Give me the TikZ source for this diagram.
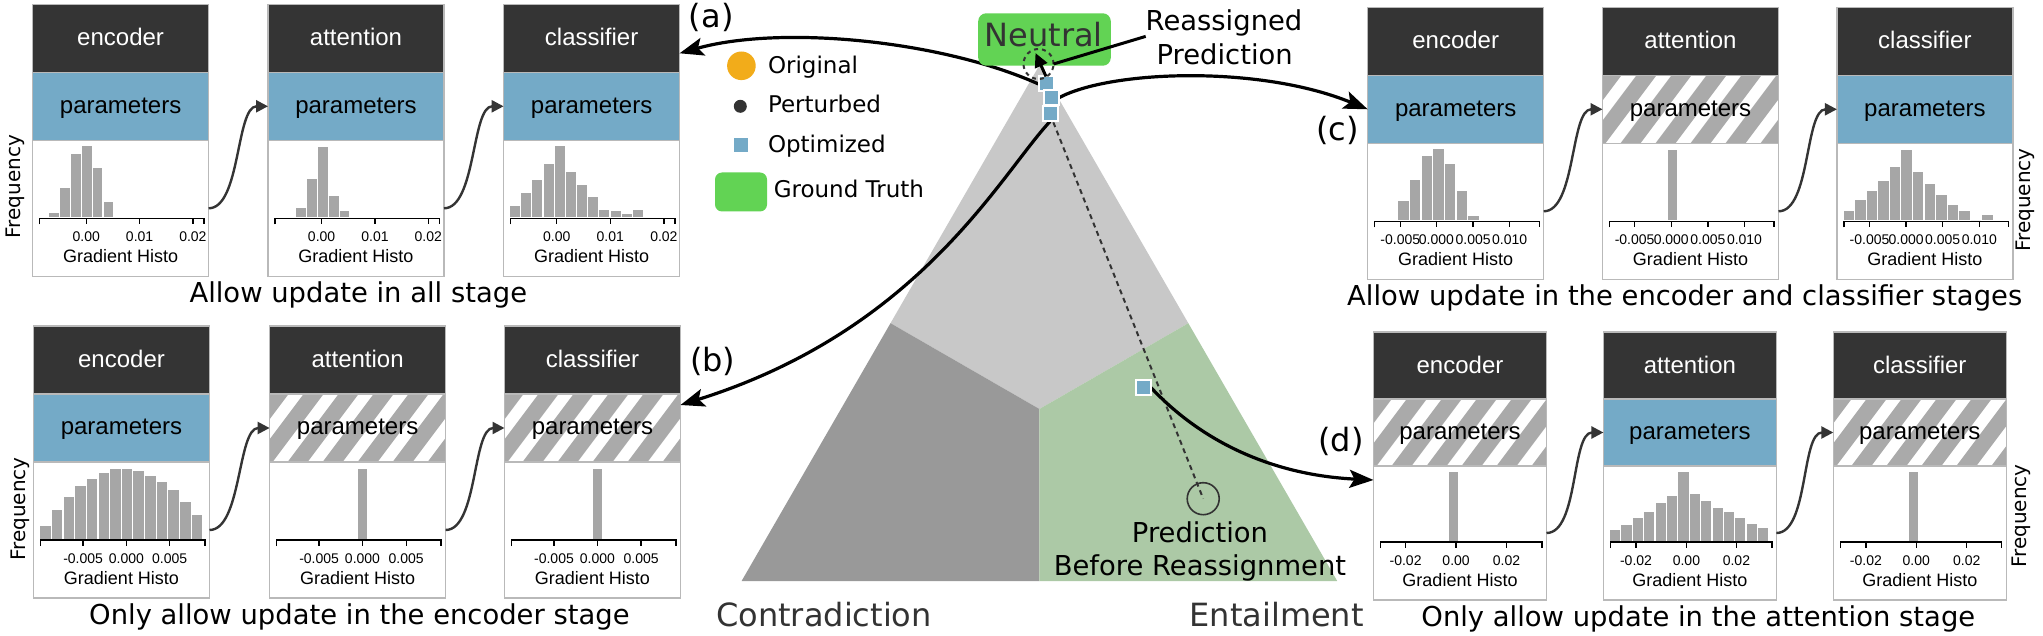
\documentclass[tikz,border=0pt]{standalone}
\usepackage{fontspec}
\setmainfont{DejaVu Sans}
\newfontfamily\pf{Liberation Sans}
\usetikzlibrary{arrows.meta}
\definecolor{headc}{RGB}{52,52,52}
\definecolor{paramc}{RGB}{116,170,199}
\definecolor{hatchc}{RGB}{170,170,170}
\definecolor{barc}{RGB}{166,166,166}
\definecolor{boxline}{RGB}{185,185,185}
\definecolor{topreg}{RGB}{200,200,200}
\definecolor{leftreg}{RGB}{153,153,153}
\definecolor{rightreg}{RGB}{172,201,166}
\definecolor{gtgreen}{RGB}{98,211,84}
\definecolor{origc}{RGB}{242,172,26}
\definecolor{darkt}{RGB}{51,51,51}
\tikzset{
  every node/.style={inner sep=0pt, outer sep=0pt},
  headbox/.style={fill=headc, draw=boxline, line width=1.2pt, anchor=north west},
  blueparam/.style={fill=paramc, draw=boxline, line width=1.2pt, anchor=north west},
  hatchparam/.style={fill=white, draw=boxline, line width=1.2pt, anchor=north west,
    path picture={\foreach \k in {-5,...,6}{\draw[hatchc, line width=16pt]
      ([xshift=\k*35pt+23.5pt, yshift=-6pt]path picture bounding box.south west) -- ++(81pt,108pt);}}},
  whitebox/.style={fill=white, draw=boxline, line width=1.2pt, anchor=north west},
  headtxt/.style={font=\pf\fontsize{24}{28}\selectfont, text=white},
  partxt/.style={font=\pf\fontsize{24}{28}\selectfont, text=black},
  ticktxt/.style={font=\pf\fontsize{14}{16}\selectfont, text=black},
  histtxt/.style={font=\pf\fontsize{18}{21}\selectfont, text=black},
  axisline/.style={draw=black, line width=1.3pt},
  captxt/.style={font=\fontsize{27.4}{32}\selectfont, text=black},
  freqtxt/.style={font=\fontsize{20}{24}\selectfont, text=black, rotate=90},
  lbltxt/.style={font=\fontsize{32}{36}\selectfont, text=black},
  bigtxt/.style={font=\fontsize{32}{36}\selectfont, text=darkt},
  midtxt/.style={font=\fontsize{27.4}{32}\selectfont, text=black},
  legtxt/.style={font=\fontsize{23}{27}\selectfont, text=black},
  stagearrow/.style={draw=headc, line width=2.4pt, -{Triangle[length=12pt,width=12pt]}},
  bigarrow/.style={draw=black, line width=3.2pt, -{Stealth[length=24pt,width=18pt,inset=5pt]}},
  smallarrow/.style={draw=black, line width=3pt, -{Triangle[length=14pt,width=13pt]}},
  optsq/.style={fill=paramc, draw=white, line width=2pt, minimum size=15pt},
}
% name, x, y, width, height, title, param style
\newcommand\StageBox[7]{%
  \pgfmathsetmacro\qh{#5/4}%
  \pgfmathsetmacro\hw{#5/2}%
  \node[headbox, minimum width=#4pt, minimum height=\qh pt] (#1h) at (#2,#3) {};%
  \node[#7, minimum width=#4pt, minimum height=\qh pt] (#1p) at (#2,#3+\qh) {};%
  \node[whitebox, minimum width=#4pt, minimum height=\hw pt] (#1w) at (#2,#3+2*\qh) {};%
  \node[headtxt, anchor=base] (#1ht) at (#2+#4/2, #3+0.153*#5) {#6};%
  \node[partxt, anchor=base] (#1pt) at (#2+#4/2, #3+0.4*#5) {parameters};%
  \node[histtxt, anchor=base] (#1gt) at (#2+#4/2, #3+#5-13.5) {Gradient Histo};%
}
% x, y, H, start, pitch, heights
\newcommand\Hist[6]{%
  \foreach \hh [count=\i] in {#6}{%
    \fill[barc] (#1+#4+\i*#5-#5, #2+#3-59) rectangle ++(#5-1.2, -\hh);%
  }%
}
% x, y, w, H, ticks, prefix
\newcommand\Axis[6]{%
  \draw[axisline] (#1+7, #2+#4-52) -- (#1+7, #2+#4-58) -- (#1+#3-4.5, #2+#4-58) -- (#1+#3-4.5, #2+#4-52);%
  \foreach \p/\l [count=\j] in {#5}{%
    \draw[axisline] (#1+\p, #2+#4-58) -- ++(0,6);%
    \node[ticktxt, anchor=base] (#6tk\j) at (#1+\p, #2+#4-35) {\l};%
  }%
}
\begin{document}
\begin{tikzpicture}[x=1pt, y=-1pt]
\useasboundingbox (0,0) rectangle (2043,636);
\fill[white] (0,0) rectangle (2043,636);

% ---------- panel (a) ----------
\StageBox{a1}{32.6}{4.3}{176}{272}{encoder}{blueparam}
\StageBox{a2}{268}{4.3}{176}{272}{attention}{blueparam}
\StageBox{a3}{503.6}{4.3}{176}{272}{classifier}{blueparam}
\Hist{32.6}{4.3}{272}{16.5}{10.9}{4,29,63,71,49,15}
\Axis{32.6}{4.3}{176}{272}{53.6/0.00,107/0.01,160.3/0.02}{a1}
\Hist{268}{4.3}{272}{28.1}{10.9}{9,38,70,21,6}
\Axis{268}{4.3}{176}{272}{53.6/0.00,107/0.01,160.3/0.02}{a2}
\Hist{503.6}{4.3}{272}{6.5}{11.16}{11,24,37,53,71,45,32,20,7,6,3,7}
\Axis{503.6}{4.3}{176}{272}{53.1/0.00,106.7/0.01,160.3/0.02}{a3}
\draw[stagearrow] (a1w.east) .. controls +(32,0) and +(-32,0) .. (a2p.west);
\draw[stagearrow] (a2w.east) .. controls +(32,0) and +(-32,0) .. (a3p.west);
\node[freqtxt] (fa) at (15.6,186.7) {Frequency};
\node[captxt, anchor=base] (capa) at (358.3,302.5) {Allow update in all stage};

% ---------- panel (b) ----------
\StageBox{b1}{33.5}{326}{176}{272}{encoder}{blueparam}
\StageBox{b2}{269.6}{326}{176}{272}{attention}{hatchparam}
\StageBox{b3}{504.5}{326}{176}{272}{classifier}{hatchparam}
\Hist{33.5}{326}{272}{6.7}{11.66}{13.3,29.3,42.3,52.7,60.3,66,70,70.3,68.3,63.3,57,48.7,37.3,24}
\Axis{33.5}{326}{176}{272}{49.6/-0.005,92.9/0.000,136.2/0.005}{b1}
\Hist{269.6}{326}{272}{88.4}{10.4}{70}
\Axis{269.6}{326}{176}{272}{49.5/-0.005,92.9/0.000,136.6/0.005}{b2}
\Hist{504.5}{326}{272}{88.4}{10.4}{70}
\Axis{504.5}{326}{176}{272}{49.5/-0.005,92.9/0.000,136.6/0.005}{b3}
\draw[stagearrow] (b1w.east) .. controls +(32,0) and +(-32,0) .. (b2p.west);
\draw[stagearrow] (b2w.east) .. controls +(32,0) and +(-32,0) .. (b3p.west);
\node[freqtxt] (fb) at (20,509) {Frequency};
\node[captxt, anchor=base] (capb) at (359.4,624.3) {Only allow update in the encoder stage};

% ---------- panel (c) ----------
\StageBox{c1}{1367.7}{7.3}{176}{272}{encoder}{blueparam}
\StageBox{c2}{1602.5}{7.3}{176}{272}{attention}{hatchparam}
\StageBox{c3}{1836.9}{7.3}{176}{272}{classifier}{blueparam}
\Hist{1367.7}{7.3}{272}{30.4}{11.7}{19,40,64.3,71,56,29,4}
\Axis{1367.7}{7.3}{176}{272}{32.6/-0.005,68.75/0.000,105.4/0.005,142/0.010}{c1}
\Hist{1602.5}{7.3}{272}{65.6}{10.2}{70.7}
\Axis{1602.5}{7.3}{176}{272}{32.1/-0.005,68.75/0.000,105.4/0.005,142/0.010}{c2}
\Hist{1836.9}{7.3}{272}{6.7}{11.57}{9.3,20,29,39.3,53.3,70.7,48.3,36.7,25,15,9.3,0,5.7}
\Axis{1836.9}{7.3}{176}{272}{32.6/-0.005,69.2/0.000,105.8/0.005,142.4/0.010}{c3}
\draw[stagearrow] (c1w.east) .. controls +(32,0) and +(-32,0) .. (c2p.west);
\draw[stagearrow] (c2w.east) .. controls +(32,0) and +(-32,0) .. (c3p.west);
\node[freqtxt] (fc) at (2025,200) {Frequency};
\node[captxt, anchor=base] (capc) at (1684.7,306) {Allow update in the encoder and classifier stages};

% ---------- panel (d) ----------
\StageBox{d1}{1373.5}{332}{173}{268}{encoder}{hatchparam}
\StageBox{d2}{1603.4}{332}{173}{268}{attention}{blueparam}
\StageBox{d3}{1833.3}{332}{173}{268}{classifier}{hatchparam}
\Hist{1373.5}{332}{268}{75}{10.2}{69}
\Axis{1373.5}{332}{173}{268}{32.1/-0.02,82.6/0.00,133/0.02}{d1}
\Hist{1603.4}{332}{268}{6.7}{11.38}{11,16,23,29,37.7,45,69,46.7,39.7,33.3,29,23.3,16.7,13.3}
\Axis{1603.4}{332}{173}{268}{32.6/-0.02,83/0.00,133/0.02}{d2}
\Hist{1833.3}{332}{268}{75.9}{10.2}{69}
\Axis{1833.3}{332}{173}{268}{32.6/-0.02,83/0.00,133.5/0.02}{d3}
\draw[stagearrow] (d1w.east) .. controls +(32,0) and +(-32,0) .. (d2p.west);
\draw[stagearrow] (d2w.east) .. controls +(32,0) and +(-32,0) .. (d3p.west);
\node[freqtxt] (fd) at (2021.7,516) {Frequency};
\node[captxt, anchor=base] (capd) at (1698.3,626) {Only allow update in the attention stage};

% ---------- ternary triangle ----------
\coordinate (A) at (1039.4,65.3);
\coordinate (L) at (741.6,581);
\coordinate (R) at (1337.2,581);
\coordinate (G) at (1039.4,409);
\coordinate (MAL) at (890.5,323.2);
\coordinate (MAR) at (1188.3,323.2);
\coordinate (MLR) at (1039.4,581);
\fill[topreg] (A) -- (MAR) -- (G) -- (MAL) -- cycle;
\fill[leftreg] (MAL) -- (G) -- (MLR) -- (L) -- cycle;
\fill[rightreg] (G) -- (MAR) -- (R) -- (MLR) -- cycle;

\node[bigtxt, anchor=base] (contra) at (824,626) {Contradiction};
\node[bigtxt, anchor=base] (entail) at (1276.7,626) {Entailment};

% square positions
\coordinate (s1) at (1046,84);
\coordinate (s2) at (1051,98);
\coordinate (s3) at (1050,114);
\coordinate (s4) at (1143.2,387.3);

% prediction before reassignment
\node[draw=darkt, line width=1.6pt, circle, minimum size=32pt] (predc) at (1203.2,498.7) {};
\draw[draw=darkt, line width=2pt, dash pattern=on 5pt off 4pt] (s3) -- (predc.center);
\node[midtxt, anchor=base] (pred1) at (1200,542) {Prediction};
\node[midtxt, anchor=base] (pred2) at (1200,575.3) {Before Reassignment};

% optimized squares and the arrows leaving them
\node[optsq] (sq1) at (s1) {};
\node[optsq] (sq2) at (s2) {};
\node[optsq] (sq3) at (s3) {};
\node[optsq] (sq4) at (s4) {};
\draw[bigarrow] (sq1.west) .. controls (940,40) and (780,25) .. ([yshift=-15pt]a3h.east);
\draw[bigarrow] (sq3.south) .. controls (1000,175) and (920,330) .. ([yshift=23pt]b3p.east);
\draw[bigarrow] (sq2.east) .. controls (1110,70) and (1260,65) .. (c1p.west);
\draw[bigarrow] (sq4.east) .. controls (1200,440) and (1270,475) .. ([yshift=53pt]d1w.west);
\node[optsq] (sq1b) at (s1) {};
\node[optsq] (sq2b) at (s2) {};
\node[optsq] (sq3b) at (s3) {};
\node[optsq] (sq4b) at (s4) {};

% ground truth Neutral
\node[fill=gtgreen, rounded corners=8pt, minimum width=132.6pt, minimum height=52.4pt] (neutralbox) at (1044.5,39.5) {};
\node[bigtxt, anchor=base] (neutral) at (1043.8,46.7) {Neutral};
\node[draw=darkt, line width=2pt, dash pattern=on 4pt off 4pt, circle, minimum size=30pt] (gtc) at (1038.5,64) {};
\coordinate (gttip) at (1035.5,53);
\draw[smallarrow] (sq1b.north) -- (gttip);
\node[midtxt, anchor=base] (reas1) at (1224,30.7) {Reassigned};
\node[midtxt, anchor=base] (reas2) at (1224.7,65) {Prediction};
\draw[black, line width=3pt] (reas1.south west) -- (gtc.east);

% labels
\node[lbltxt] (la) at (711.2,17.5) {(a)};
\node[lbltxt] (lb) at (712.8,361.8) {(b)};
\node[lbltxt] (lc) at (1337.4,130.8) {(c)};
\node[lbltxt] (ld) at (1341,441) {(d)};

% legend
\node[circle, fill=origc, minimum size=28.6pt] (legorig) at (741.4,65.8) {};
\node[legtxt, anchor=base west] (tOrig) at (768,74) {Original};
\node[circle, fill=darkt, minimum size=13pt] (legpert) at (740.3,106.3) {};
\node[legtxt, anchor=base west] (tPert) at (768,113) {Perturbed};
\node[fill=paramc, minimum size=14pt] (legopt) at (740.7,145.5) {};
\node[legtxt, anchor=base west] (tOpt) at (768,153) {Optimized};
\node[fill=gtgreen, rounded corners=7pt, minimum width=52pt, minimum height=39pt] (leggt) at (741,192) {};
\node[legtxt, anchor=base west] (tGT) at (773.75,198) {Ground Truth};
\end{tikzpicture}
\end{document}
